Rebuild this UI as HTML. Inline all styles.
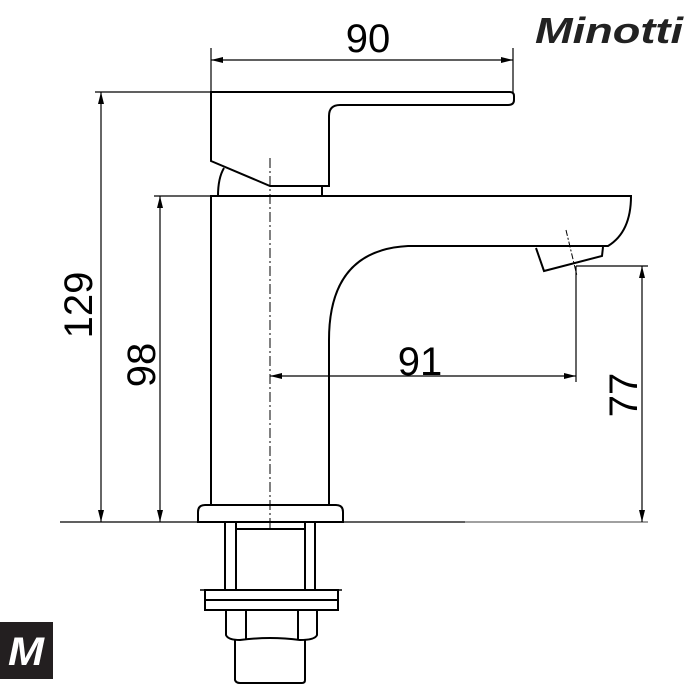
<!DOCTYPE html>
<html><head><style>
html,body{margin:0;padding:0;background:#fff;width:700px;height:700px;overflow:hidden}
</style></head><body>
<svg width="700" height="700" viewBox="0 0 700 700" xmlns="http://www.w3.org/2000/svg">
<g fill="none" stroke="#000" stroke-width="1.2">
<line x1="211" y1="48" x2="211" y2="92"/>
<line x1="513" y1="48" x2="513" y2="92"/>
<line x1="211" y1="60" x2="513" y2="60"/>
<line x1="95" y1="92" x2="211" y2="92"/>
<line x1="101" y1="92" x2="101" y2="522"/>
<line x1="154" y1="196" x2="211" y2="196"/>
<line x1="160" y1="196" x2="160" y2="522"/>
<line x1="270" y1="376" x2="576" y2="376"/>
<line x1="576" y1="266" x2="576" y2="382"/>
<line x1="576" y1="266" x2="648" y2="266"/>
<line x1="642" y1="266" x2="642" y2="522"/>
<line x1="60" y1="522" x2="465" y2="522"/>
<line x1="465" y1="522" x2="648" y2="522" stroke-width="0.8"/>
<line x1="270" y1="158" x2="270" y2="530" stroke-dasharray="10,3,2,3" stroke-width="1"/>
<line x1="566" y1="230" x2="577" y2="276" stroke-dasharray="6,2,2,2" stroke-width="1"/>
</g>
<g fill="none" stroke="#000" stroke-width="2">
<path d="M211,92 H510 Q514,92 514,96 V100 Q514,105 508,105 H340 Q329,105 329,116 V186 H270 L211,161 Z"/>
<path d="M218,196 Q218,178 224,168"/>
<path d="M322,186 V196"/>
<path d="M211,505 V196 H631 Q631,232 608,246 H408 Q329,250 329,340 V505"/>
<path d="M536,248 L544,271 L602,256 L603,247"/>
<path d="M205,505 H336 Q343,505 343,512 V522 H198 V512 Q198,505 205,505 Z"/>
<path d="M225,522 V590 M315,522 V590 M236,522 V590 M305,522 V590 M236,529 H305"/>
<line x1="200" y1="590" x2="342" y2="590" stroke-width="1.5"/>
<rect x="205" y="590" width="133" height="10"/>
<rect x="205" y="600" width="133" height="10"/>
<path d="M226,610 V635 Q228,640 240,640 Q270,636 300,640 Q315,640 317,635 V610 M246,610 V640 M298,610 V640"/>
<path d="M235,640 V680 Q236,683 240,683 H302 Q305,683 305,680 V640"/>
</g>
<g fill="#000">
<polygon points="101,92 98,104 104,104"/><polygon points="101,522 98,510 104,510"/>
<polygon points="160,196 157,208 163,208"/><polygon points="160,522 157,510 163,510"/>
<polygon points="642,266 639,278 645,278"/><polygon points="642,522 639,510 645,510"/>
<polygon points="270,376 282,373 282,379"/><polygon points="576,376 564,373 564,379"/>
<polygon points="211,60 223,57 223,63"/><polygon points="513,60 501,57 501,63"/>
</g>
<g font-family="Liberation Sans, sans-serif" font-size="40" fill="#000">
<text x="368" y="52" text-anchor="middle">90</text>
<text x="420" y="375" text-anchor="middle">91</text>
<text transform="translate(92,305) rotate(-90)" text-anchor="middle">129</text>
<text transform="translate(155,365) rotate(-90)" text-anchor="middle">98</text>
<text transform="translate(637,395) rotate(-90)" text-anchor="middle">77</text>
</g>
<text x="535" y="43" font-family="Liberation Sans, sans-serif" font-size="36" font-weight="bold" font-style="italic" fill="#222" textLength="148" lengthAdjust="spacingAndGlyphs">Minotti</text>
<rect x="0" y="622" width="53" height="57" fill="#231f20"/>
<text x="8" y="665" font-family="Liberation Sans, sans-serif" font-size="40" font-weight="bold" font-style="italic" fill="#fff" textLength="36" lengthAdjust="spacingAndGlyphs">M</text>
</svg>
</body></html>
